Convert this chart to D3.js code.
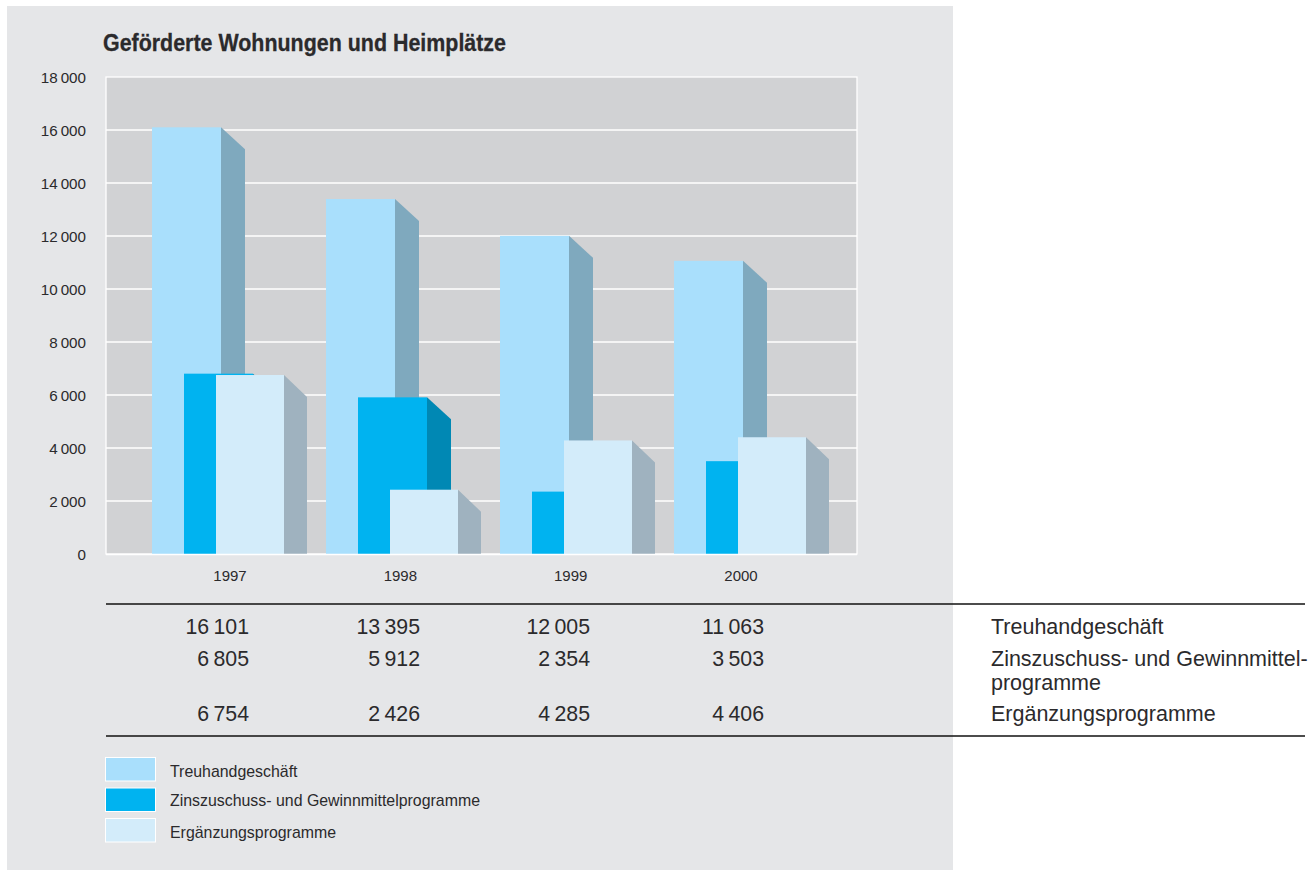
<!DOCTYPE html>
<html><head><meta charset="utf-8">
<script src="https://cdn.jsdelivr.net/npm/d3@7"></script>
<style>html,body{margin:0;padding:0;background:#fff}svg{display:block}text{font-family:"Liberation Sans",Arial,sans-serif;fill:#2b2a2c}</style>
</head><body><svg id="c" width="1316" height="870"></svg>
<script>
const years = ["1997","1998","1999","2000"];
const seriesNames = ["Treuhandgeschäft","Zinszuschuss- und Gewinnmittelprogramme","Ergänzungsprogramme"];
const treuhand = [16101,13395,12005,11063];
const zinszuschuss = [6805,5912,2354,3503];
const ergaenzung = [6754,2426,4285,4406];
const yTicks = [0,2000,4000,6000,8000,10000,12000,14000,16000,18000];
const title = "Geförderte Wohnungen und Heimplätze";
const frontColors = ["#A9DFFC","#00B3F0","#D3ECFA"];
const sideColors = ["#7FA9BE","#0088B4","#9FB2BF"];
const tableLabels = [["Treuhandgeschäft"],["Zinszuschuss- und Gewinnmittel-","programme"],["Ergänzungsprogramme"]];

const svg = d3.select("#c");
const fmt = v => { const s=String(v); return s.length>3 ? s.slice(0,-3)+"\u2009"+s.slice(-3) : s; };
const values = [treuhand,zinszuschuss,ergaenzung];

svg.append("rect").attr("x",7).attr("y",6).attr("width",946).attr("height",864).attr("fill","#E5E6E8");

const y = d3.scaleLinear().domain([0,18000]).range([554,77]);
const xLeft=106,xRight=857;
svg.append("rect").attr("x",xLeft).attr("y",y(18000)).attr("width",xRight-xLeft).attr("height",y(0)-y(18000))
  .attr("fill","#D1D2D4").attr("stroke","#fff").attr("stroke-width",1.3);

const axis = d3.axisLeft(y).tickValues(yTicks).tickFormat(fmt).tickSize(0).tickPadding(20);
const gy = svg.append("g").attr("transform",`translate(${xLeft},0)`).call(axis);
gy.select(".domain").remove();
gy.selectAll("text").attr("font-size",15.2).style("font-family",'"Liberation Sans",Arial,sans-serif').attr("dy","0.32em").attr("y",1);
svg.append("g").selectAll("line").data(yTicks.slice(1,-1)).join("line")
  .attr("x1",xLeft).attr("x2",xRight).attr("y1",d=>y(d)).attr("y2",d=>y(d))
  .attr("stroke","#fff").attr("stroke-width",1.3);

const xBand = d3.scaleBand().domain(years).range([152,743]).paddingInner(105/174).paddingOuter(0);
const off = d3.scalePoint().domain(seriesNames).range([0,64]);
const barW = d3.scaleOrdinal().domain(seriesNames).range([69,69,68]);
const dx=24, dy=22;
seriesNames.forEach((name,si)=>{
  const g = svg.append("g");
  const w = barW(name);
  years.forEach((yr,i)=>{
    const v = values[si][i], x0 = xBand(yr)+off(name), top=y(v), base=y(0);
    g.append("polygon").attr("fill",sideColors[si])
      .attr("points",[[x0+w,top],[x0+w+dx-(si==2?1:0),top+dy],[x0+w+dx-(si==2?1:0),base],[x0+w,base]].join(" "));
    g.append("rect").attr("x",x0).attr("y",top).attr("width",w).attr("height",base-top).attr("fill",frontColors[si]);
  });
});
svg.append("line").attr("x1",xLeft).attr("x2",xRight).attr("y1",y(0)+.5).attr("y2",y(0)+.5).attr("stroke","#fff").attr("stroke-width",1.3);

const yearX = d3.scalePoint().domain(years).range([230,741]);
svg.append("g").selectAll("text").data(years).join("text")
  .attr("x",d=>yearX(d)).attr("y",581).attr("text-anchor","middle").attr("font-size",15).text(d=>d);

svg.append("text").attr("x",103).attr("y",51).attr("font-size",24.5).attr("font-weight",700)
  .attr("stroke","#2b2a2c").attr("stroke-width",0.3)
  .attr("textLength",403).attr("lengthAdjust","spacingAndGlyphs").text(title);

[604,736].forEach(ly=>svg.append("line").attr("x1",106).attr("x2",1305).attr("y1",ly).attr("y2",ly).attr("stroke","#111").attr("stroke-width",1.3));

const tableX = d3.scaleOrdinal().domain(years).range([249,420,590,764]);
const rowY = d3.scaleOrdinal().domain(seriesNames).range([634,666,721]);
seriesNames.forEach((name,si)=>{
  years.forEach((yr,i)=>{
    svg.append("text").attr("x",tableX(yr)).attr("y",rowY(name)).attr("text-anchor","end").attr("font-size",21.3).text(fmt(values[si][i]));
  });
  tableLabels[si].forEach((line,li)=>{
    svg.append("text").attr("x",991).attr("y",rowY(name)+li*24).attr("font-size",21.5).text(line);
  });
});

const legY = d3.scalePoint().domain(seriesNames).range([757,818]);
const legTextY = d3.scaleOrdinal().domain(seriesNames).range([777,806,838]);
seriesNames.forEach((name,si)=>{
  svg.append("rect").attr("x",105.5).attr("y",legY(name)+.5).attr("width",50).attr("height",23.5)
    .attr("fill",frontColors[si]).attr("stroke","#fff").attr("stroke-width",1);
  svg.append("text").attr("x",170).attr("y",legTextY(name)).attr("font-size",15.9).text(name);
});
</script></body></html>
